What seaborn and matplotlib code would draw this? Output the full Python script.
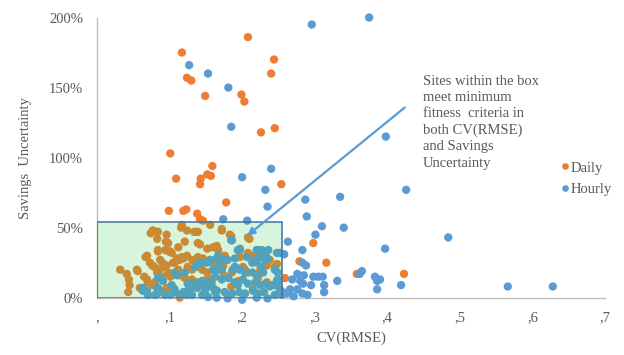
import pandas as pd
import numpy as np
import seaborn as sns
import matplotlib.pyplot as plt
from matplotlib.patches import Rectangle
from matplotlib.ticker import FuncFormatter

# --- data: (CV(RMSE), savings uncertainty %) ---
daily_pts = [
    # above / right of the box
    (0.208, 186), (0.117, 175), (0.244, 170), (0.240, 160), (0.124, 157), (0.130, 155),
    (0.149, 144), (0.199, 145), (0.203, 140), (0.245, 121), (0.226, 118), (0.101, 103),
    (0.159, 94), (0.152, 88), (0.157, 87), (0.143, 85), (0.109, 85), (0.142, 81),
    (0.254, 81), (0.178, 68), (0.099, 62), (0.119, 62), (0.123, 63), (0.138, 60),
    (0.142, 56), (0.146, 55), (0.298, 39), (0.279, 26), (0.316, 25), (0.358, 17),
    (0.423, 17), (0.259, 14),
    # inside the box
    (0.032, 20), (0.041, 17), (0.044, 13), (0.045, 9), (0.043, 4), (0.055, 20), (0.059, 7),
    (0.065, 15), (0.069, 13), (0.067, 29), (0.074, 46), (0.077, 48), (0.083, 47), (0.076, 23),
    (0.079, 22), (0.087, 27), (0.086, 20), (0.086, 15), (0.096, 45), (0.095, 40), (0.094, 34),
    (0.099, 33), (0.103, 32), (0.091, 22), (0.096, 7), (0.105, 25), (0.110, 28), (0.114, 27),
    (0.119, 28), (0.116, 50), (0.117, 52), (0.112, 36), (0.121, 40), (0.134, 47), (0.136, 47),
    (0.139, 39), (0.142, 38), (0.135, 27), (0.152, 35), (0.160, 36), (0.163, 36), (0.172, 49),
    (0.172, 48), (0.185, 44), (0.208, 43), (0.210, 42), (0.197, 29), (0.207, 30), (0.183, 45),
    (0.083, 42), (0.084, 34), (0.069, 30), (0.073, 25), (0.056, 19), (0.070, 11), (0.077, 9),
    (0.084, 7), (0.084, 20), (0.083, 18), (0.084, 47), (0.124, 48), (0.139, 47), (0.098, 39),
    (0.101, 33), (0.084, 33), (0.107, 25), (0.090, 25), (0.096, 23), (0.117, 29), (0.124, 30),
    (0.131, 27), (0.139, 29), (0.146, 28), (0.125, 22), (0.131, 20), (0.139, 22), (0.145, 20),
    (0.152, 18), (0.112, 20), (0.114, 16), (0.098, 18), (0.101, 15), (0.090, 15), (0.080, 11),
    (0.121, 14), (0.131, 13), (0.138, 11), (0.153, 14), (0.158, 11), (0.114, 0), (0.165, 37),
    (0.167, 34), (0.176, 30), (0.197, 35), (0.208, 32), (0.215, 30), (0.222, 33), (0.232, 30),
    (0.238, 27), (0.234, 23), (0.174, 23), (0.201, 22), (0.204, 20), (0.186, 18), (0.208, 18),
    (0.234, 11), (0.241, 9), (0.222, 14), (0.156, 52), (0.160, 25), (0.170, 20), (0.175, 16),
    (0.150, 8), (0.165, 5), (0.185, 8), (0.195, 12), (0.215, 6), (0.225, 20), (0.245, 22),
    (0.248, 24),
]

hourly_pts = [
    # above / right of the box
    (0.296, 195), (0.375, 200), (0.127, 166), (0.153, 160), (0.181, 150), (0.185, 122),
    (0.398, 115), (0.240, 92), (0.200, 86), (0.232, 77), (0.426, 77), (0.335, 72),
    (0.287, 70), (0.235, 65), (0.289, 58), (0.174, 56), (0.207, 55), (0.310, 51),
    (0.340, 50), (0.301, 45), (0.484, 43), (0.263, 40), (0.397, 35), (0.283, 34),
    (0.258, 31), (0.283, 25), (0.288, 23), (0.362, 17), (0.365, 19), (0.383, 15),
    (0.390, 13), (0.386, 12), (0.386, 6), (0.419, 9), (0.331, 12), (0.298, 15),
    (0.305, 15), (0.311, 15), (0.313, 9), (0.313, 4), (0.295, 9), (0.276, 17),
    (0.285, 16), (0.280, 12), (0.284, 10), (0.269, 13), (0.276, 6), (0.266, 6),
    (0.262, 3), (0.283, 3), (0.566, 8), (0.628, 8), (0.290, 2), (0.271, 1), (0.256, 4),
    # inside the box
    (0.063, 7), (0.069, 5), (0.083, 7), (0.083, 3), (0.088, 14), (0.091, 12), (0.105, 7),
    (0.107, 4), (0.110, 16), (0.101, 2), (0.114, 2), (0.125, 5), (0.135, 22), (0.139, 24),
    (0.142, 25), (0.145, 25), (0.134, 10), (0.140, 9), (0.145, 12), (0.150, 11), (0.152, 9),
    (0.160, 20), (0.165, 20), (0.169, 27), (0.174, 27), (0.185, 41), (0.190, 22), (0.193, 21),
    (0.187, 20), (0.197, 34), (0.207, 29), (0.220, 34), (0.227, 34), (0.220, 28), (0.230, 28),
    (0.235, 28), (0.248, 12), (0.249, 11), (0.063, 5), (0.070, 2), (0.080, 2), (0.084, 14),
    (0.087, 5), (0.103, 9), (0.107, 6), (0.107, 18), (0.121, 18), (0.152, 25), (0.156, 27),
    (0.165, 28), (0.167, 30), (0.125, 10), (0.131, 7), (0.138, 7), (0.139, 10), (0.146, 9),
    (0.149, 5), (0.156, 11), (0.160, 7), (0.163, 4), (0.119, 4), (0.124, 2), (0.131, 2),
    (0.145, 2), (0.153, 0.5), (0.094, 2), (0.186, 41), (0.194, 34), (0.180, 27), (0.190, 28),
    (0.222, 34), (0.232, 33), (0.236, 34), (0.227, 29), (0.232, 27), (0.248, 32), (0.252, 32),
    (0.214, 25), (0.220, 25), (0.227, 22), (0.167, 22), (0.172, 20), (0.197, 20), (0.204, 18),
    (0.214, 18), (0.220, 16), (0.229, 18), (0.245, 20), (0.249, 18), (0.163, 15), (0.172, 13),
    (0.181, 14), (0.190, 11), (0.194, 9), (0.201, 13), (0.208, 10), (0.218, 11), (0.225, 9),
    (0.232, 10), (0.238, 8), (0.245, 9), (0.252, 6), (0.249, 13), (0.165, 5), (0.176, 4),
    (0.186, 3), (0.196, 4), (0.204, 3), (0.215, 5), (0.222, 3), (0.230, 4), (0.245, 2),
    (0.165, 0), (0.180, -0.5), (0.200, -1.5), (0.220, 0), (0.235, -0.5), (0.255, 2),
]

series_names = ['Daily', 'Hourly']
series_colors = ['#ED7D31', '#5B9BD5']
box_cv, box_unc = 0.255, 54
note = ("Sites within the box\nmeet minimum\nfitness  criteria in\n"
        "both CV(RMSE)\nand Savings\nUncertainty")

df = pd.concat([
    pd.DataFrame(daily_pts, columns=['cv', 'unc']).assign(kind='Daily'),
    pd.DataFrame(hourly_pts, columns=['cv', 'unc']).assign(kind='Hourly'),
], ignore_index=True)

sns.set_style('white')
plt.rcParams['font.family'] = ['Liberation Serif', 'DejaVu Serif']
grey = '#595959'
fs = 10.5

fig = plt.figure(figsize=(6.24, 3.55), dpi=100)
ax = fig.add_axes([0.1554, 0.1614, 0.8142, 0.7893])

sns.scatterplot(data=df, x='cv', y='unc', hue='kind', hue_order=series_names,
                palette=series_colors, s=36, linewidth=0, ax=ax, clip_on=False, zorder=3)

# shaded "acceptable" box drawn on top of the points
ax.add_patch(Rectangle((0, 0), box_cv, box_unc, facecolor=(0.15, 0.78, 0.25, 0.18),
                       edgecolor='#41719C', linewidth=1.1, zorder=4))

ax.annotate('', xy=(0.204, 43), xytext=(0.427, 137),
            arrowprops=dict(arrowstyle='-|>', color='#5B9BD5', lw=1.6, mutation_scale=11),
            zorder=5)
ax.text(0.449, 159, note, fontsize=fs, color=grey, va='top', ha='left', linespacing=1.32)

ax.set_xlim(0, 0.7)
ax.set_ylim(0, 200)
ax.set_xticks(np.arange(0, 0.71, 0.1))
ax.set_yticks(np.arange(0, 201, 50))
ax.xaxis.set_major_formatter(FuncFormatter(
    lambda v, p: ',' + ('' if round(v * 10) == 0 else str(int(round(v * 10))))))
ax.yaxis.set_major_formatter(FuncFormatter(lambda v, p: f'{v:.0f}%'))
ax.tick_params(axis='both', length=0, labelsize=fs, labelcolor=grey)
ax.tick_params(axis='y', pad=10)
ax.tick_params(axis='x', pad=10)

ax.set_xlabel('CV(RMSE)', fontsize=fs, color=grey, labelpad=5)
ax.set_ylabel('Savings  Uncertainty', fontsize=fs, color=grey, labelpad=12)

for side in ['top', 'right']:
    ax.spines[side].set_visible(False)
for side in ['left', 'bottom']:
    ax.spines[side].set_color('#BFBFBF')
    ax.spines[side].set_linewidth(1.0)

sns.move_legend(ax, 'center left', bbox_to_anchor=(0.899, 0.497), bbox_transform=fig.transFigure,
                frameon=False, title=None, fontsize=fs, handlelength=0.5, handletextpad=0.15,
                borderpad=0, borderaxespad=0, markerscale=0.8, labelspacing=0.55,
                labelcolor=grey)

fig.savefig('out.png', dpi=100)
